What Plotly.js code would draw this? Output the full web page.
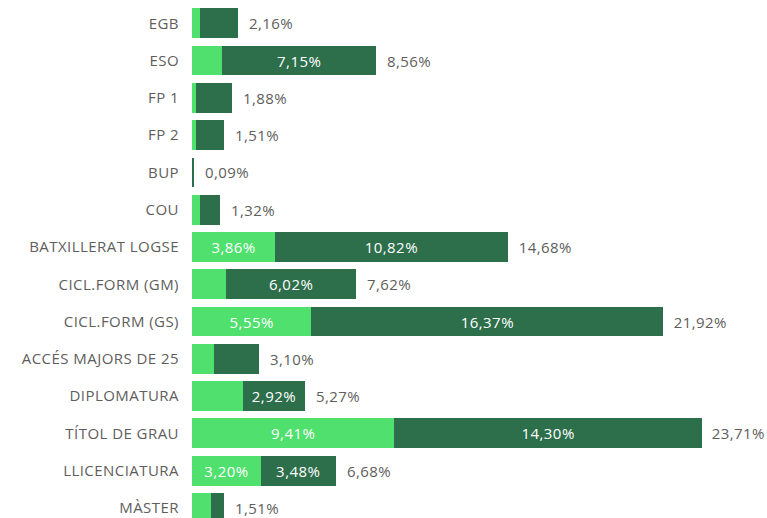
<!DOCTYPE html>
<html><head><meta charset="utf-8">
<script src="https://cdn.plot.ly/plotly-3.0.1.min.js"></script>
<style>html,body{margin:0;padding:0;background:#fff;}#chart{width:767px;height:518px;}
#chart text{letter-spacing:0.45px;}</style>
</head><body><div id="chart"></div>
<script>
const categories = ["EGB","ESO","FP 1","FP 2","BUP","COU","BATXILLERAT LOGSE","CICL.FORM (GM)","CICL.FORM (GS)","ACCÉS MAJORS DE 25","DIPLOMATURA","TÍTOL DE GRAU","LLICENCIATURA","MÀSTER"];
const lightValues = [0.37,1.41,0.20,0.20,0.00,0.37,3.86,1.60,5.55,1.04,2.35,9.41,3.20,0.87];
const darkValues  = [1.79,7.15,1.68,1.31,0.09,0.95,10.82,6.02,16.37,2.06,2.92,14.30,3.48,0.64];
const totalValues = [2.16,8.56,1.88,1.51,0.09,1.32,14.68,7.62,21.92,3.10,5.27,23.71,6.68,1.51];

const fmt = v => v.toFixed(2).replace('.', ',') + '%';
const insideText = arr => arr.map(v => v >= 2.5 ? fmt(v) : '');
const FONT = '"Segoe UI", "Open Sans", "Noto Sans", sans-serif';
const FS = 15;
const XMAX = 26.74, LEFT = 192, PLOTW = 767 - LEFT;

const traces = [
  {type:'bar', orientation:'h', y:categories, x:lightValues, name:'A',
   marker:{color:'#4fe06e'}, text:insideText(lightValues), textposition:'inside',
   insidetextanchor:'middle', textangle:0, constraintext:'none',
   textfont:{color:'#ffffff', size:FS, family:FONT}, hoverinfo:'none'},
  {type:'bar', orientation:'h', y:categories, x:darkValues, name:'B',
   marker:{color:'#2d6e4b'}, text:insideText(darkValues), textposition:'inside',
   insidetextanchor:'middle', textangle:0, constraintext:'none',
   textfont:{color:'#ffffff', size:FS, family:FONT}, hoverinfo:'none'}
];

// total labels: placed right of bar end; if they would not fit, pushed against the right edge
const annotations = categories.map((c, i) => {
  const endPx = totalValues[i] / XMAX * PLOTW;
  const fits = endPx + 11 + 56 <= PLOTW;
  const base = {y: c, yref:'y', text: fmt(totalValues[i]), showarrow:false, yanchor:'middle',
                font:{color:'#605e5c', size:FS, family:FONT}};
  return fits
    ? Object.assign(base, {x: totalValues[i], xref:'x', xanchor:'left', xshift:10})
    : Object.assign(base, {x: 1, xref:'paper', xanchor:'right', xshift:-1});
});

const layout = {
  width:767, height:518,
  margin:{l:LEFT, r:0, t:0, b:0, pad:0},
  barmode:'stack', bargap:0.2, showlegend:false,
  paper_bgcolor:'#fff', plot_bgcolor:'#fff',
  xaxis:{range:[0, XMAX], visible:false, fixedrange:true},
  yaxis:{type:'category', range:[13.27,-0.625], showgrid:false, zeroline:false, showline:false,
         ticks:'', ticklabelstandoff:12,
         tickfont:{color:'#605e5c', size:FS, family:FONT}},
  annotations: annotations,
  uniformtext:{mode:'show', minsize:8}
};
Plotly.newPlot('chart', traces, layout, {displayModeBar:false, staticPlot:true});
</script></body></html>
